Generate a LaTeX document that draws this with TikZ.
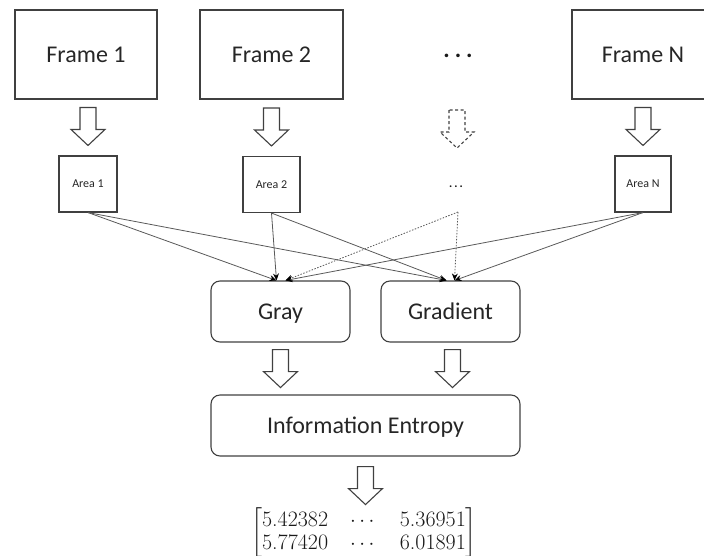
\documentclass[tikz,border=0pt]{standalone}
\usepackage{amsmath}
\usepackage{fontspec}
\setmainfont{Carlito}
\newfontfamily\numfont{Latin Modern Roman}
\usetikzlibrary{arrows.meta,calc}

\tikzset{
  box/.style={draw=black!75, line width=1.1pt, inner sep=0pt, text=black!85},
  bigtext/.style={font=\fontsize{24}{28}\selectfont, text height=15.5pt, text depth=0pt},
  framebox/.style={box, bigtext, minimum width=142pt, minimum height=89pt},
  areabox/.style={box, font=\fontsize{12}{14}\selectfont, text height=7.7pt, text depth=0pt,
                  minimum width=57pt, minimum height=56pt},
  procbox/.style={box, bigtext, rounded corners=9pt, minimum height=61pt},
  link/.style={draw=black!65, line width=0.8pt, -{Stealth[length=7pt,width=6pt,black]}},
  dotlink/.style={link, dash pattern=on 1.5pt off 1.5pt},
  pics/hollowarrow/.style={code={
    \draw[black!75, line width=1.1pt, line join=miter]
      (-8,0) -- (-8,22) -- (-17,22) -- (0,38) -- (17,22) -- (8,22) -- (8,0) -- cycle;}}
}

\begin{document}
\begin{tikzpicture}[x=1pt,y=-1pt]
\useasboundingbox (0,0) rectangle (704,555);

% input frames
\node[framebox] (f1) at (86,54.5) {Frame 1};
\node[framebox, minimum width=143pt] (f2) at (271.5,54.5) {Frame 2};
\node[anchor=base, font=\fontsize{24}{28}\selectfont\bfseries, text=black!90] (fd) at (458,57.5) {.\kern5pt.\kern5pt.};
\node[framebox] (fn) at (643,54.5) {Frame N};

% cropped areas
\node[areabox, minimum width=58pt] (a1) at (88,184) {Area 1};
\node[areabox] (a2) at (271.5,184.5) {Area 2};
\node[anchor=base, font=\fontsize{12}{14}\selectfont\bfseries, text=black!90] (ad) at (456,187) {.\kern2pt.\kern2pt.};
\node[areabox, minimum width=56pt] (an) at (643,184) {Area N};
\coordinate (dsrc) at (458,212);

% frame -> area arrows
\pic at ($(a1.north)+(0,-48)$) {hollowarrow};
\pic at ($(a2.north)+(0,-48)$) {hollowarrow};
\pic[dash pattern=on 3pt off 2.5pt] at (457,110) {hollowarrow};
\pic at ($(an.north)+(0,-48)$) {hollowarrow};

% feature boxes
\node[procbox, minimum width=139pt] (gray) at (280.5,311.5) {Gray};
\node[procbox, minimum width=139pt] (grad) at (450.5,311.5) {Gradient};
\node[procbox, minimum width=309pt] (ie) at (365.5,425.5) {Information Entropy};

% area -> feature links
\draw[link] (a1.south) -- ($(gray.north)+(-4,0)$);
\draw[link] (a1.south) -- ($(grad.north)+(-4,0)$);
\draw[link] (a2.south) -- ($(gray.north)+(-4,0)$);
\draw[link] (a2.south) -- ($(grad.north)+(-4,0)$);
\draw[dotlink] (dsrc) -- ($(gray.north)+(5,0)$);
\draw[dotlink] (dsrc) -- ($(grad.north)+(4,0)$);
\draw[link] (an.south) -- ($(gray.north)+(5,0)$);
\draw[link] (an.south) -- ($(grad.north)+(4,0)$);

% feature -> entropy arrows
\pic at ($(gray.south)+(0,7)$) {hollowarrow};
\pic at ($(grad.south)+(2,7)$) {hollowarrow};
\pic at ($(ie.south)+(0,10)$) {hollowarrow};

% result matrix
\node[inner sep=0pt, text=black!90] (res) at (364,533)
  {\fontsize{22}{23}\selectfont\numfont\setlength{\arraycolsep}{11pt}%
   $\left[\begin{array}{@{}ccc@{}}
     \text{5.42382} & \cdots & \text{5.36951}\\
     \text{5.77420} & \cdots & \text{6.01891}
   \end{array}\right]$};
\end{tikzpicture}
\end{document}
